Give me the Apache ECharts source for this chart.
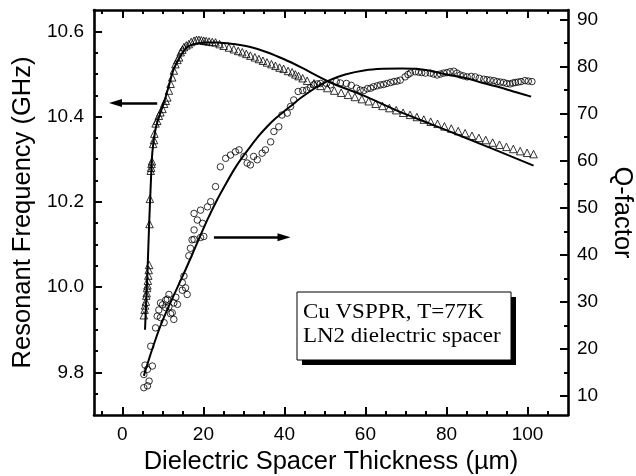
<!DOCTYPE html>
<html><head><meta charset="utf-8">
<script src="https://cdn.jsdelivr.net/npm/echarts@6/dist/echarts.min.js"></script>
<style>html,body{margin:0;padding:0;background:#fff}#c{width:636px;height:476px}</style>
</head><body><div id="c"></div>
<script>
// ---- data ----
const freqThickness = [5.3,5.5,5.6,5.8,5.9,6.0,6.1,6.2,6.3,6.4,6.5,6.6,6.7,6.8,7.0,7.1,7.2,7.3,7.6,7.8,7.9,8.2,8.6,9.0,9.4,9.9,10.3,10.7,11.1,11.5,11.9,12.3,12.7,13.1,13.6,14.0,14.4,14.8,15.2,15.8,16.4,17.0,17.7,18.3,18.9,19.5,20.1,20.7,21.4,22.2,23.0,24.0,25.0,26.3,27.5,28.6,29.6,30.6,31.6,32.7,33.7,34.7,35.7,36.8,37.8,38.8,39.8,40.9,41.9,42.7,43.5,44.5,45.6,47.3,48.9,50.6,52.3,54.0,55.7,57.4,59.1,60.8,62.5,64.2,65.9,67.6,69.3,71.0,72.7,74.4,76.1,77.8,79.5,81.2,82.9,84.6,86.3,88.0,89.7,91.4,93.1,94.8,96.5,98.2,99.9,101.5];
const freqGHz = [9.934,9.947,9.957,9.966,9.98,9.986,9.998,10.004,10.015,10.027,10.04,10.052,10.148,10.207,10.273,10.28,10.289,10.295,10.336,10.345,10.36,10.384,10.39,10.402,10.41,10.418,10.43,10.437,10.445,10.461,10.477,10.492,10.508,10.523,10.533,10.539,10.551,10.557,10.563,10.567,10.57,10.575,10.578,10.58,10.58,10.579,10.578,10.577,10.576,10.575,10.574,10.57,10.566,10.562,10.558,10.554,10.551,10.547,10.543,10.539,10.535,10.531,10.527,10.523,10.519,10.515,10.512,10.507,10.504,10.499,10.495,10.49,10.484,10.478,10.472,10.467,10.461,10.456,10.451,10.446,10.441,10.436,10.43,10.425,10.42,10.415,10.409,10.404,10.399,10.393,10.388,10.383,10.377,10.372,10.366,10.361,10.355,10.35,10.345,10.339,10.334,10.329,10.324,10.319,10.315,10.312];
const qThickness = [5.3,5.6,5.3,6.2,6.2,6.6,7.4,7.0,8.2,8.6,9.0,9.4,9.4,9.9,10.3,10.7,10.7,11.1,11.5,11.5,11.9,12.3,12.7,12.7,13.2,13.6,14.8,14.8,15.2,15.6,16.0,16.4,16.8,17.2,17.7,17.7,17.7,18.5,19.3,19.3,19.8,20.1,21.0,21.8,23.0,24.2,25.5,26.7,27.9,28.8,30.0,30.8,31.6,32.4,33.3,34.5,35.3,36.6,37.4,38.6,39.4,40.7,41.5,42.3,43.4,44.5,45.5,46.4,47.2,48.1,48.9,50.4,51.4,52.8,53.8,55.3,56.5,57.8,58.7,59.6,60.5,61.3,62.0,62.9,63.7,64.5,65.3,66.2,67.0,67.8,68.6,69.8,70.5,71.1,72.3,73.1,73.9,74.8,76.0,76.8,77.7,78.5,79.3,80.1,80.9,81.8,82.6,83.4,84.2,85.1,86.1,87.1,88.1,89.2,90.0,90.8,91.7,92.5,93.3,94.1,94.9,95.7,96.4,97.0,97.7,98.4,99.4,100.2,101.1];
const qFactor = [11.8,16.6,14.6,12.2,15.7,13.2,16.4,20.6,24.5,27.0,28.3,26.7,29.8,29.4,25.6,28.8,30.4,30.6,31.6,29.0,27.5,27.7,26.3,29.8,31.0,29.5,32.5,34.1,35.5,33.0,31.6,39.8,41.4,43.2,43.3,45.3,48.8,47.4,43.7,49.5,46.7,43.9,50.2,51.3,54.5,58.7,60.5,61.2,61.9,62.3,60.9,59.5,59.1,60.9,60.2,61.6,62.3,64.0,66.2,67.2,69.7,70.1,71.5,72.9,74.7,74.9,75.0,75.5,76.1,76.3,76.4,76.4,76.1,76.8,76.5,76.4,76.0,75.4,75.0,74.9,75.3,75.4,75.7,75.9,76.1,76.2,76.4,76.6,76.8,76.9,77.1,77.8,78.3,78.6,78.9,78.8,78.7,78.6,78.6,78.4,78.2,78.4,78.6,78.7,78.9,79.0,78.6,78.2,78.0,77.8,77.9,77.8,77.5,77.3,77.2,77.1,77.0,76.8,76.7,76.6,76.4,76.3,76.5,76.6,76.7,76.8,77.0,76.9,76.8];
const freqFitThickness = [5.6,5.7,6.2,6.6,7.0,7.4,8.2,9.0,10.3,11.5,12.7,14.4,16.0,17.7,20.1,23.4,27.5,31.6,35.7,39.8,44.0,51.4,59.6,67.8,76.0,84.2,92.5,101.5];
const freqFitGHz = [9.900,9.926,10.036,10.145,10.238,10.316,10.371,10.398,10.434,10.473,10.512,10.543,10.563,10.570,10.574,10.574,10.570,10.563,10.551,10.535,10.516,10.480,10.449,10.414,10.383,10.352,10.320,10.285];
const qFitThickness = [5.3,7.0,9.0,11.0,13.0,15.2,17.0,19.3,21.0,23.4,25.5,27.5,29.5,31.6,33.6,35.7,37.7,39.8,42.0,44.0,47.9,51.2,55.0,60.0,64.3,69.0,72.6,77.0,80.0,84.9,89.0,93.1,97.0,100.9];
const qFitValues = [14.3,19.0,24.0,28.2,32.0,36.1,39.6,44.2,47.5,51.7,55.0,58.0,60.6,63.0,65.2,67.2,68.9,70.4,71.9,73.3,75.6,77.1,78.3,79.2,79.5,79.6,79.5,78.9,78.3,77.5,76.5,75.6,74.6,73.6];
// tick labels / positions
const xMajorTicks = [0,20,40,60,80,100];
const xMinorTicks = [-5,5,10,15,25,30,35,45,50,55,65,70,75,85,90,95,105];
const freqMajorTicks = [9.8,10.0,10.2,10.4,10.6];
const freqMinorTicks = [9.75,9.85,9.9,9.95,10.05,10.1,10.15,10.25,10.3,10.35,10.45,10.5,10.55];
const qMajorTicks = [10,20,30,40,50,60,70,80,90];
const qMinorTicks = [15,25,35,45,55,65,75,85];
const legendLines = ['Cu VSPPR, T=77K','LN2 dielectric spacer'];
// annotation arrows [fromX, fromY, toX, toY] in data units (left axis)
const arrowLeft = [8.6,10.432,-1.7,10.432];
const arrowRight = [22.6,10.117,39.9,10.117];

const zip = (a,b)=>a.map((v,i)=>[v,b[i]]);
const SANS = '"Liberation Sans", Arial, sans-serif';
const X = {min:-7, max:110}, YF = {min:9.7, max:10.65}, YQ = {min:6, max:92};

function axis(range, position, ticks, len, opts) {
  opts = opts || {};
  return Object.assign({
    type:'value', position, min:range.min, max:range.max,
    splitLine:{show:false},
    axisLine:{show: !!opts.line, onZero:false, lineStyle:{color:'#000', width:2.6}},
    axisTick:{show:true, inside:true, length:len, customValues:ticks, lineStyle:{color:'#000', width:2}},
    axisLabel: opts.labels ? {show:true, customValues:ticks, color:'#000', fontSize:19, fontFamily:SANS, margin:opts.margin||10, formatter:opts.fmt} : {show:false},
    minorTick:{show:false}
  }, opts.extra||{});
}

const chart = echarts.init(document.getElementById('c'), null, {renderer:'canvas'});
chart.setOption({
  animation:false,
  backgroundColor:'#fff',
  grid:{left:94, right:68, top:10, bottom:61, outerBoundsMode:'none', containLabel:false},
  xAxis:[
    axis(X,'bottom',xMajorTicks,8,{line:true, labels:true, margin:10, fmt:v=>String(v), extra:{
      name:'Dielectric Spacer Thickness (\u00b5m)', nameLocation:'middle', nameGap:30,
      nameTextStyle:{fontSize:25.5, color:'#000', fontFamily:SANS}}}),
    axis(X,'bottom',xMinorTicks,4),
    axis(X,'top',xMajorTicks,8,{line:true}),
    axis(X,'top',xMinorTicks,4)
  ],
  yAxis:[
    axis(YF,'left',freqMajorTicks,8,{line:true, labels:true, margin:10, fmt:v=>v.toFixed(1), extra:{
      name:'Resonant Frequency (GHz)', nameLocation:'middle', nameGap:55,
      nameTextStyle:{fontSize:25.5, color:'#000', fontFamily:SANS}}}),
    axis(YQ,'right',qMajorTicks,8,{line:true, labels:true, margin:9, fmt:v=>String(v), extra:{
      name:'Q-factor', nameLocation:'middle', nameGap:41, nameRotate:-90,
      nameTextStyle:{fontSize:25.5, color:'#000', fontFamily:SANS}}}),
    axis(YF,'left',freqMinorTicks,4),
    axis(YQ,'right',qMinorTicks,4)
  ],
  series:[
    {type:'line', xAxisIndex:0, yAxisIndex:0, data:zip(freqFitThickness,freqFitGHz), smooth:0.3, showSymbol:false,
      lineStyle:{color:'#000', width:2}, silent:true,
      markLine:{silent:true, symbol:['none','triangle'], symbolSize:[8,13], label:{show:false},
        lineStyle:{color:'#000', width:2.5, type:'solid'}, emphasis:{disabled:true},
        data:[
          [{coord:[arrowLeft[0],arrowLeft[1]]},{coord:[arrowLeft[2],arrowLeft[3]]}],
          [{coord:[arrowRight[0],arrowRight[1]]},{coord:[arrowRight[2],arrowRight[3]]}]
        ]}},
    {type:'line', xAxisIndex:0, yAxisIndex:1, data:zip(qFitThickness,qFitValues), smooth:0.3, showSymbol:false,
      lineStyle:{color:'#000', width:2}, silent:true},
    {type:'scatter', xAxisIndex:0, yAxisIndex:0, data:zip(freqThickness,freqGHz), symbol:'triangle', symbolSize:7.5,
      itemStyle:{color:'rgba(0,0,0,0)', borderColor:'#000', borderWidth:1}, silent:true},
    {type:'scatter', xAxisIndex:0, yAxisIndex:1, data:zip(qThickness,qFactor), symbol:'circle', symbolSize:6.5,
      itemStyle:{color:'rgba(0,0,0,0)', borderColor:'#000', borderWidth:1}, silent:true}
  ],
  graphic:[
    {type:'rect', z:100, shape:{x:302, y:297, width:214, height:68}, style:{fill:'#000'}},
    {type:'rect', z:101, shape:{x:297, y:292, width:214, height:68}, style:{fill:'#fff', stroke:'#000', lineWidth:1}},
    {type:'text', z:102, x:303, y:313, scaleX:1.12, style:{text:legendLines[0], font:'20.5px "Liberation Serif", "Times New Roman", serif', fill:'#000', verticalAlign:'middle'}},
    {type:'text', z:102, x:303, y:337, scaleX:1.12, style:{text:legendLines[1], font:'20.5px "Liberation Serif", "Times New Roman", serif', fill:'#000', verticalAlign:'middle'}}
  ]
});
</script></body></html>
